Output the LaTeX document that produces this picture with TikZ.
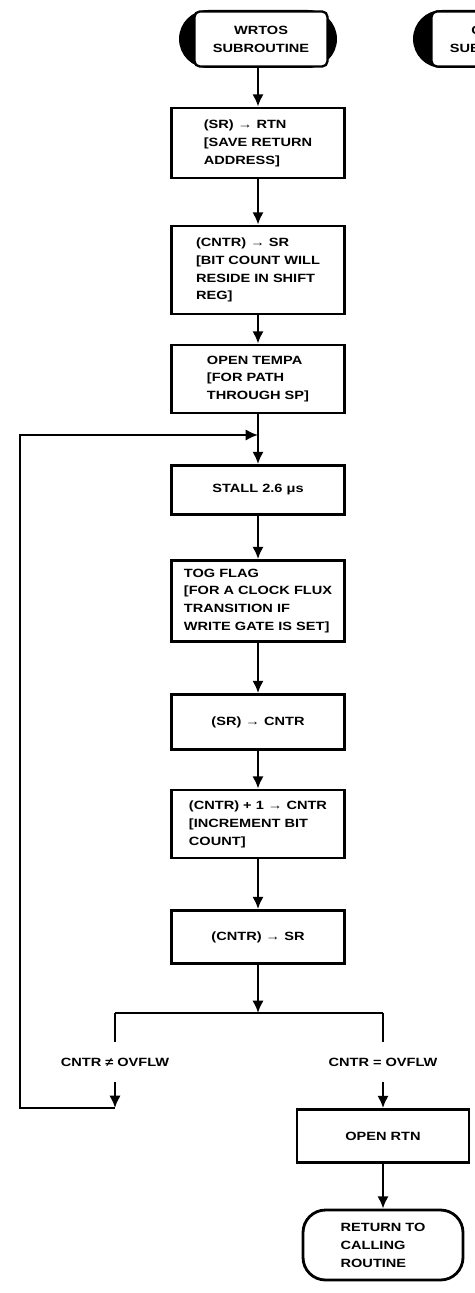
\documentclass[tikz,border=0pt]{standalone}
\usepackage{fontspec}
\newfontfamily\chartfont{Liberation Sans}[FakeStretch=1.22]
\usetikzlibrary{arrows.meta, shapes.misc}
\tikzset{
  flow arrow/.style={
    -{Latex[length=7pt,width=6.5pt]},
    line width=1.6pt
  },
  flow line/.style={
    -,
    line width=1.6pt
  },
  chart text/.style={
    font=\chartfont\bfseries\fontsize{6.8}{10.2}\selectfont
  },
  proc box/.style={
    chart text,
    draw,
    rectangle,
    line width=1.6pt,
    minimum width=3.46cm,
    align=left,
    inner sep=2pt
  },
  cond label/.style={
    chart text,
    inner xsep=2pt,
    inner ysep=0.3cm
  },
  cap back/.style={
    rounded rectangle,
    fill=black,
    minimum width=3.16cm,
    minimum height=1.16cm,
    inner sep=0pt
  },
  cap face/.style={
    chart text,
    draw,
    fill=white,
    line width=1.3pt,
    rounded corners=3pt,
    minimum width=2.66cm,
    minimum height=1.1cm,
    align=center
  },
  end cap/.style={
    chart text,
    draw,
    line width=1.6pt,
    rounded corners=0.45cm,
    minimum width=3.2cm,
    minimum height=1.4cm,
    align=left
  }
}

\begin{document}
\begin{tikzpicture}[x=0.02cm, y=-0.02cm]
  \useasboundingbox (0,0) rectangle (475,1293);
  \clip (0,0) rectangle (475,1293);

  %% ---- entry terminals ----
  \node[cap back] (wrtosCap) at (258,39) {};
  \node[cap face] (wrtos) at (261,39) {WRTOS\\SUBROUTINE};
  \node[cap back] (getbitCap) at (492,39) {};
  \node[cap face] (getbit) at (498,39) {GETBIT\\SUBROUTINE};

  %% ---- main column ----
  \node[proc box, minimum height=1.4cm]  (saveRtn)  at (258,143) {(SR) → RTN\\{[}SAVE RETURN\\ADDRESS{]}};
  \node[proc box, minimum height=1.76cm] (cntrSr)   at (258,270) {(CNTR) → SR\\{[}BIT COUNT WILL\\RESIDE IN SHIFT\\REG{]}};
  \node[proc box, minimum height=1.36cm] (openTempa) at (258,379) {OPEN TEMPA\\{[}FOR PATH\\THROUGH SP{]}};
  \node[proc box, minimum height=0.98cm, align=center] (stall) at (258,490) {STALL 2.6 μs};
  \node[proc box, minimum height=1.62cm] (togFlag)  at (258,601) {TOG FLAG\\{[}FOR A CLOCK FLUX\\TRANSITION IF\\WRITE GATE IS SET{]}};
  \node[proc box, minimum height=1.1cm, align=center]  (srCntr)  at (258,722) {(SR) → CNTR};
  \node[proc box, minimum height=1.36cm] (incCntr)  at (258,824) {(CNTR) + 1 → CNTR\\{[}INCREMENT BIT\\COUNT{]}};
  \node[proc box, minimum height=1.06cm, align=center] (cntrSrB) at (258,937) {(CNTR) → SR};

  %% ---- branch ----
  \coordinate (splitC) at (258,1013);
  \coordinate (splitL) at (115,1013);
  \coordinate (splitR) at (383,1013);
  \node[cond label] (neLbl) at (115,1062) {CNTR ≠ OVFLW};
  \node[cond label] (eqLbl) at (383,1062) {CNTR = OVFLW};
  \node[proc box, minimum height=1.06cm, minimum width=3.44cm, align=center] (openRtn) at (383,1136) {OPEN RTN};
  \node[end cap] (retCall) at (383,1245) {RETURN TO\\CALLING\\ROUTINE};

  %% ---- loop path ----
  \coordinate (loopEnd) at (115,1108);
  \coordinate (loopBL) at (20,1108);
  \coordinate (loopTL) at (20,435);
  \coordinate (joinP) at (258,435);

  %% ---- connectors ----
  \draw[flow arrow] (wrtosCap.south -| saveRtn.north) -- (saveRtn.north);
  \draw[flow arrow] (saveRtn) -- (cntrSr);
  \draw[flow arrow] (cntrSr) -- (openTempa);
  \draw[flow arrow] (openTempa) -- (stall);
  \draw[flow arrow] (stall) -- (togFlag);
  \draw[flow arrow] (togFlag) -- (srCntr);
  \draw[flow arrow] (srCntr) -- (incCntr);
  \draw[flow arrow] (incCntr) -- (cntrSrB);
  \draw[flow arrow] (cntrSrB) -- (splitC);
  \draw[flow line] (splitL) -- (splitR);
  \draw[flow line] (splitL) -- (neLbl.north);
  \draw[flow line] (splitR) -- (eqLbl.north);
  \draw[flow arrow] (eqLbl.south) -- (openRtn.north);
  \draw[flow arrow] (openRtn) -- (retCall);
  \draw[flow arrow] (neLbl.south) -- (loopEnd);
  \draw[flow arrow] (loopEnd) -- (loopBL) -- (loopTL) -- (joinP);
\end{tikzpicture}
\end{document}
